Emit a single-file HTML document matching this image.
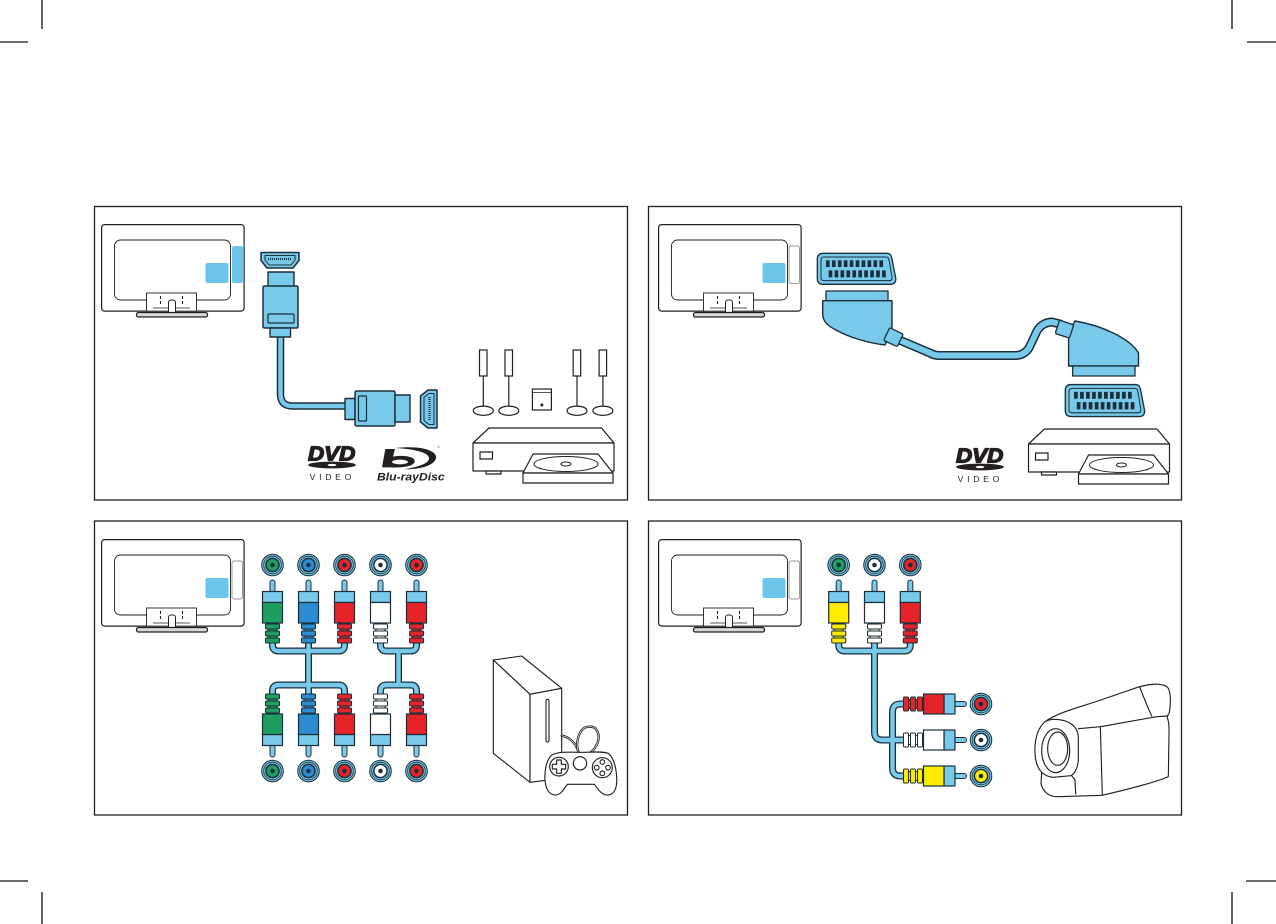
<!DOCTYPE html>
<html><head><meta charset="utf-8">
<style>html,body{margin:0;padding:0;background:#fff;}svg{display:block}</style>
</head>
<body>
<svg width="1276" height="924" viewBox="0 0 1276 924" xmlns="http://www.w3.org/2000/svg" font-family="Liberation Sans, sans-serif">
<defs>
  <g id="tv">
    <rect x="0.6" y="0.6" width="142.5" height="86.5" rx="3" fill="#fff" stroke="#231f20" stroke-width="1.2"/>
    <rect x="13.5" y="16" width="116" height="60" rx="6" fill="#fff" stroke="#231f20" stroke-width="0.9"/>
    <rect x="104.5" y="39" width="23" height="20" rx="2" fill="#6cc5ea"/>
    <rect x="45.5" y="69" width="50" height="18.1" fill="#fff" stroke="#231f20" stroke-width="0.9"/>
    <line x1="52" y1="84" x2="89" y2="84" stroke="#231f20" stroke-width="0.8"/>
    <path d="M59.5,72v3M59.5,77v3M81.5,72v3M81.5,77v3" stroke="#231f20" stroke-width="1.1"/>
    <rect x="67.5" y="76" width="7" height="15" rx="2.5" fill="#fff" stroke="#231f20" stroke-width="1"/>
    <rect x="35.5" y="88.5" width="71" height="4.5" rx="2" fill="#d8d8d8" stroke="#231f20" stroke-width="1.3"/>
  </g>
  <g id="plug">
    <path d="M-2.5,12 V2.5 A2.5,2.5 0 0 1 2.5,2.5 V12" fill="#78c9ea" stroke="#1a2f3a" stroke-width="1"/>
    <rect x="-10" y="11.5" width="20" height="11" fill="#78c9ea" stroke="#1a2f3a" stroke-width="1.2"/>
    <rect x="-10" y="22.5" width="20" height="20.5" fill="currentColor" stroke="#1a2f3a" stroke-width="1.2"/>
    <rect x="-4.5" y="43" width="9" height="20" fill="currentColor" stroke="#1a2f3a" stroke-width="1"/>
    <rect x="-7" y="44" width="14" height="5" rx="1" fill="currentColor" stroke="#1a2f3a" stroke-width="1"/>
    <rect x="-7" y="51" width="14" height="5" rx="1" fill="currentColor" stroke="#1a2f3a" stroke-width="1"/>
    <rect x="-7" y="58" width="14" height="5" rx="1" fill="currentColor" stroke="#1a2f3a" stroke-width="1"/>
  </g>
  <g id="jack">
    <circle r="10.8" fill="#78c9ea" stroke="#1a2f3a" stroke-width="1"/>
    <circle r="8.8" fill="none" stroke="#1a2f3a" stroke-width="0.8"/>
    <circle r="6.6" fill="currentColor" stroke="#1a2f3a" stroke-width="1.5"/>
    <circle r="2.3" fill="#1a2f3a"/>
  </g>
  <g id="scs">
    <path d="M22,42 Q22,25 40,25 L232,25 Q242,25 245,38 L257,98 Q260,118 240,118 L40,118 Q22,118 22,100 Z" fill="#78c9ea" stroke="#1a2f3a" stroke-width="4"/>
    <path d="M33,45 Q33,36 43,36 L228,36 Q235,36 237,44 L246,96 Q248,107 237,107 L43,107 Q33,107 33,98 Z" fill="#78c9ea" stroke="#1a2f3a" stroke-width="3"/>
    <path fill="#1a2f3a" d="M48,46h11v20h-11zM65.8,46h11v20h-11zM83.6,46h11v20h-11zM101.4,46h11v20h-11zM119.2,46h11v20h-11zM137,46h11v20h-11zM154.8,46h11v20h-11zM172.6,46h11v20h-11zM190.4,46h11v20h-11zM208.2,46h11v20h-11z
    M56,76h11v21h-11zM73.8,76h11v21h-11zM91.6,76h11v21h-11zM109.4,76h11v21h-11zM127.2,76h11v21h-11zM145,76h11v21h-11zM162.8,76h11v21h-11zM180.6,76h11v21h-11zM198.4,76h11v21h-11zM216.2,76h11v21h-11z"/>
  </g>
  <g id="player" fill="#fff" stroke="#231f20" stroke-width="1.2" stroke-linejoin="round">
    <path d="M473,443 L489,428 H601.5 L614,443 Z"/>
    <rect x="473" y="443" width="141" height="28"/>
    <rect x="480" y="452" width="12.5" height="7"/>
    <rect x="486" y="471" width="15" height="3"/>
    <path d="M533,454 H598 L613,473 H523 Z"/>
    <rect x="523" y="473" width="90" height="10"/>
    <ellipse cx="566" cy="464" rx="32" ry="7.5" stroke-width="1"/>
    <ellipse cx="566" cy="464" rx="5" ry="2" stroke-width="1"/>
  </g>
</defs>

<!-- crop marks -->
<g stroke="#111" stroke-width="1.3">
  <line x1="42" y1="0" x2="42" y2="29"/><line x1="0" y1="42" x2="28" y2="42"/>
  <line x1="1232" y1="0" x2="1232" y2="29"/><line x1="1247" y1="42" x2="1276" y2="42"/>
  <line x1="42" y1="892" x2="42" y2="924"/><line x1="0" y1="881" x2="28" y2="881"/>
  <line x1="1232" y1="892" x2="1232" y2="924"/><line x1="1246" y1="881" x2="1276" y2="881"/>
</g>

<!-- panels -->
<g fill="none" stroke="#231f20" stroke-width="1.3">
  <rect x="94.5" y="206.5" width="533" height="293.5"/>
  <rect x="648.5" y="206.5" width="533" height="293.5"/>
  <rect x="94.5" y="521" width="533" height="294"/>
  <rect x="648.5" y="521" width="533" height="294"/>
</g>

<!-- TVs -->
<use href="#tv" transform="translate(101,224)"/>
<rect x="232" y="246" width="11" height="37" rx="2" fill="#6cc5ea"/>
<use href="#tv" transform="translate(658,224)"/>
<rect x="789" y="246" width="10.5" height="37.5" rx="2" fill="#fff" stroke="#9a9a9a" stroke-width="1"/>
<use href="#tv" transform="translate(101,539)"/>
<rect x="232" y="561" width="10.5" height="38" rx="2" fill="#fff" stroke="#9a9a9a" stroke-width="1"/>
<use href="#tv" transform="translate(658,539)"/>
<rect x="789" y="561" width="10.5" height="38" rx="2" fill="#fff" stroke="#9a9a9a" stroke-width="1"/>

<!-- ===== TL: HDMI ===== -->
<g stroke="#1a2f3a" stroke-linejoin="round">
  <path d="M261,252.5 h38 v8 l-6,7.5 h-26 l-6,-7.5 z" fill="#78c9ea" stroke-width="1.5"/>
  <path d="M265,255.5 h30 v4.5 l-4,5 h-22 l-4,-5 z" fill="#78c9ea" stroke-width="1"/>
  <line x1="268" y1="259" x2="292" y2="259" stroke-width="2.2" stroke-dasharray="1 1"/>
  <path d="M280.5,335 V394 Q280.5,406 292.5,406 H347" fill="none" stroke-width="7.5"/>
  <path d="M280.5,335 V394 Q280.5,406 292.5,406 H347" fill="none" stroke="#78c9ea" stroke-width="4.5"/>
  <rect x="268" y="272" width="26" height="15" fill="#78c9ea" stroke-width="1.4"/>
  <rect x="263" y="286" width="35" height="42" rx="1.5" fill="#78c9ea" stroke-width="1.5"/>
  <rect x="268" y="314" width="26" height="9" rx="1" fill="none" stroke-width="1.2"/>
  <rect x="270" y="328" width="20.5" height="9" fill="#78c9ea" stroke-width="1.4"/>
  <rect x="345" y="398.5" width="10" height="21" fill="#78c9ea" stroke-width="1.4"/>
  <rect x="355" y="391" width="40" height="35" rx="1.5" fill="#78c9ea" stroke-width="1.5"/>
  <rect x="358.5" y="396" width="8" height="25" rx="1" fill="none" stroke-width="1.2"/>
  <rect x="395" y="395" width="15" height="27" fill="#78c9ea" stroke-width="1.4"/>
  <path d="M437,390 v38 h-9 l-7.5,-6 v-26 l7.5,-6 z" fill="#78c9ea" stroke-width="1.5"/>
  <path d="M434,393.5 v31 h-5 l-5,-4 v-23 l5,-4 z" fill="#78c9ea" stroke-width="1"/>
  <line x1="429.5" y1="397" x2="429.5" y2="421" stroke-width="2.2" stroke-dasharray="1 1"/>
</g>

<!-- DVD logo TL -->
<g transform="translate(298,440) scale(0.33333)" fill="#231f20">
  <text x="30" y="62" font-size="62" font-weight="bold" font-style="italic" textLength="142" lengthAdjust="spacingAndGlyphs" stroke="#231f20" stroke-width="4" stroke-linejoin="round">DVD</text>
  <ellipse cx="102" cy="75" rx="72" ry="10"/>
  <ellipse cx="102" cy="75" rx="13" ry="3.5" fill="#fff"/>
  <text x="35" y="120" font-size="26" textLength="125" lengthAdjust="spacing">VIDEO</text>
  <!-- Blu-ray -->
  <path d="M262,27 L291,27 L285,50 C305,45 348,47 350,62 C352,78 318,84 278,82 L252,82 Z"/>
  <ellipse cx="306" cy="66" rx="24" ry="7" fill="#fff"/>
  <path d="M292,24 C385,14 425,38 412,60 C400,80 360,88 318,88 C355,82 390,72 393,57 C396,40 360,28 292,24 Z"/>
  <text x="237" y="122" font-size="32" font-weight="bold" font-style="italic" textLength="203" lengthAdjust="spacingAndGlyphs">Blu-rayDisc</text>
  <text x="415" y="25" font-size="10">™</text>
</g>

<!-- speakers -->
<g fill="#fff" stroke="#231f20" stroke-width="1.2">
  <line x1="483.3" y1="376" x2="483.3" y2="410"/><ellipse cx="483.3" cy="410.7" rx="10" ry="4.6"/><rect x="479.5" y="350" width="7.5" height="26"/>
  <line x1="508.8" y1="376" x2="508.8" y2="410"/><ellipse cx="508.8" cy="410.7" rx="10" ry="4.6"/><rect x="505" y="350" width="7.5" height="26"/>
  <line x1="577" y1="376" x2="577" y2="410"/><ellipse cx="577" cy="410.7" rx="10" ry="4.6"/><rect x="573.2" y="350" width="7.5" height="26"/>
  <line x1="602.9" y1="376" x2="602.9" y2="410"/><ellipse cx="602.9" cy="410.7" rx="10" ry="4.6"/><rect x="599.1" y="350" width="7.5" height="26"/>
  <rect x="532.4" y="389" width="19" height="21"/>
  <line x1="532.4" y1="392.5" x2="551.4" y2="392.5" stroke-width="0.8"/>
  <circle cx="541.9" cy="405" r="0.9" fill="#231f20"/>
</g>
<use href="#player"/>

<!-- ===== TR: SCART ===== -->
<use href="#scs" transform="translate(810,245) scale(0.33333)"/>
<use href="#scs" transform="translate(1057.9,376) scale(0.3368,0.3441)"/>
<g stroke="#1a2f3a" stroke-linejoin="round" stroke-linecap="round">
  <path d="M897,339 L930,353 Q934,355.5 940,355.5 H1015 Q1024,355.5 1029,348 L1037,331 Q1042,322.5 1052,322 L1060,324" fill="none" stroke-width="9"/>
  <path d="M897,339 L930,353 Q934,355.5 940,355.5 H1015 Q1024,355.5 1029,348 L1037,331 Q1042,322.5 1052,322 L1060,324" fill="none" stroke="#78c9ea" stroke-width="6"/>
  <rect x="826" y="291" width="62" height="10" fill="#78c9ea" stroke-width="1.3"/>
  <path d="M822.7,300.7 H892 V330 L885,345 C868,343 848,337 836,330 C826,325 822.7,320 822.7,314 Z" fill="#78c9ea" stroke-width="1.4"/>
  <rect x="-7" y="-7" width="15" height="14" rx="1.5" transform="translate(893,337) rotate(25)" fill="#78c9ea" stroke-width="1.3"/>
  <path d="M1068.6,333 V366 H1138.5 V353 C1130,338 1100,325 1075,321 Z" fill="#78c9ea" stroke-width="1.4"/>
  <rect x="1072.7" y="366" width="62.3" height="10" fill="#78c9ea" stroke-width="1.3"/>
  <rect x="-7" y="-7" width="15" height="14" rx="1.5" transform="translate(1064,329) rotate(18)" fill="#78c9ea" stroke-width="1.3"/>
</g>
<!-- DVD logo TR -->
<g transform="translate(946,442) scale(0.33333)" fill="#231f20">
  <text x="30" y="62" font-size="62" font-weight="bold" font-style="italic" textLength="142" lengthAdjust="spacingAndGlyphs" stroke="#231f20" stroke-width="4" stroke-linejoin="round">DVD</text>
  <ellipse cx="102" cy="75" rx="72" ry="10"/>
  <ellipse cx="102" cy="75" rx="13" ry="3.5" fill="#fff"/>
  <text x="35" y="120" font-size="26" textLength="125" lengthAdjust="spacing">VIDEO</text>
</g>
<use href="#player" transform="translate(555.5,1)"/>

<!-- ===== BL: component ===== -->
<g fill="none" stroke-linejoin="round">
  <path d="M272.5,640 V645 Q272.5,651 278.5,651 H338.5 Q344.5,651 344.5,645 V640 M308.5,640 V697 M272.5,697 V691 Q272.5,685 278.5,685 H338.5 Q344.5,685 344.5,691 V697
  M380.5,640 V645 Q380.5,651 386.5,651 H410.5 Q416.5,651 416.5,645 V640 M398.5,651 V685 M380.5,697 V691 Q380.5,685 386.5,685 H410.5 Q416.5,685 416.5,691 V697" stroke="#1a2f3a" stroke-width="7"/>
  <path d="M272.5,640 V645 Q272.5,651 278.5,651 H338.5 Q344.5,651 344.5,645 V640 M308.5,640 V697 M272.5,697 V691 Q272.5,685 278.5,685 H338.5 Q344.5,685 344.5,691 V697
  M380.5,640 V645 Q380.5,651 386.5,651 H410.5 Q416.5,651 416.5,645 V640 M398.5,651 V685 M380.5,697 V691 Q380.5,685 386.5,685 H410.5 Q416.5,685 416.5,691 V697" stroke="#78c9ea" stroke-width="4.4"/>
</g>
<use href="#plug" transform="translate(272.5,580)" style="color:#1c9f5f"/>
<use href="#plug" transform="translate(308.5,580)" style="color:#2b8ccf"/>
<use href="#plug" transform="translate(344.5,580)" style="color:#e52329"/>
<use href="#plug" transform="translate(380.5,580)" style="color:#ffffff"/>
<use href="#plug" transform="translate(416.5,580)" style="color:#e52329"/>
<use href="#plug" transform="translate(272.5,757) scale(1,-1)" style="color:#1c9f5f"/>
<use href="#plug" transform="translate(308.5,757) scale(1,-1)" style="color:#2b8ccf"/>
<use href="#plug" transform="translate(344.5,757) scale(1,-1)" style="color:#e52329"/>
<use href="#plug" transform="translate(380.5,757) scale(1,-1)" style="color:#ffffff"/>
<use href="#plug" transform="translate(416.5,757) scale(1,-1)" style="color:#e52329"/>
<use href="#jack" transform="translate(272.5,565)" style="color:#1c9f5f"/>
<use href="#jack" transform="translate(308.5,565)" style="color:#2b8ccf"/>
<use href="#jack" transform="translate(344.5,565)" style="color:#e52329"/>
<use href="#jack" transform="translate(380.5,565)" style="color:#ffffff"/>
<use href="#jack" transform="translate(416.5,565)" style="color:#e52329"/>
<use href="#jack" transform="translate(272.5,771)" style="color:#1c9f5f"/>
<use href="#jack" transform="translate(308.5,771)" style="color:#2b8ccf"/>
<use href="#jack" transform="translate(344.5,771)" style="color:#e52329"/>
<use href="#jack" transform="translate(380.5,771)" style="color:#ffffff"/>
<use href="#jack" transform="translate(416.5,771)" style="color:#e52329"/>

<!-- console + controller -->
<g transform="translate(480,645) scale(0.33333)" fill="#fff" stroke="#231f20" stroke-width="3.4" stroke-linejoin="round" stroke-linecap="round">
  <path d="M40,45 L125,33 L245,130 L150,148 Z"/>
  <path d="M40,45 L150,148 L150,412 L40,325 Z"/>
  <path d="M150,148 L245,130 L245,400 L150,412 Z"/>
  <rect x="198" y="163" width="9" height="128" rx="4.5" fill="none"/>
  <path d="M245,272 C265,275 285,290 295,318" fill="none" stroke-width="7"/>
  <path d="M245,272 C265,275 285,290 295,318" fill="none" stroke="#fff" stroke-width="2"/>
  <path d="M295,322 C285,290 298,248 325,245 C352,242 362,270 352,295 C346,310 338,318 332,322" fill="none" stroke-width="7"/>
  <path d="M295,322 C285,290 298,248 325,245 C352,242 362,270 352,295 C346,310 338,318 332,322" fill="none" stroke="#fff" stroke-width="2"/>
  <path d="M215,330 C200,345 193,375 195,405 C197,430 205,448 225,450 C240,452 250,435 262,418 L343,418 C355,435 368,452 385,450 C405,448 412,425 410,395 C408,365 402,340 385,325 C365,318 330,322 300,322 C270,322 240,318 215,330 Z"/>
  <circle cx="237" cy="365" r="28"/>
  <path d="M230,345 h14 v13 h13 v14 h-13 v13 h-14 v-13 h-13 v-14 h13 z"/>
  <circle cx="300" cy="355" r="20"/>
  <circle cx="367" cy="368" r="30"/>
  <circle cx="367" cy="351" r="7"/><circle cx="350" cy="368" r="7"/><circle cx="384" cy="368" r="7"/><circle cx="367" cy="385" r="7"/>
</g>

<!-- ===== BR: composite ===== -->
<g fill="none" stroke-linejoin="round">
  <path d="M838.7,640 V645 Q838.7,651 844.7,651 H904.3 Q910.3,651 910.3,645 V640 M874.5,640 V732 Q874.5,740 882.5,740 H906 M906,704 H900.5 Q892.5,704 892.5,712 V768 Q892.5,776 900.5,776 H906" stroke="#1a2f3a" stroke-width="7"/>
  <path d="M838.7,640 V645 Q838.7,651 844.7,651 H904.3 Q910.3,651 910.3,645 V640 M874.5,640 V732 Q874.5,740 882.5,740 H906 M906,704 H900.5 Q892.5,704 892.5,712 V768 Q892.5,776 900.5,776 H906" stroke="#78c9ea" stroke-width="4.4"/>
</g>
<use href="#plug" transform="translate(838.7,580)" style="color:#ffec00"/>
<use href="#plug" transform="translate(874.5,580)" style="color:#ffffff"/>
<use href="#plug" transform="translate(910.3,580)" style="color:#e52329"/>
<use href="#jack" transform="translate(838.7,565)" style="color:#1c9f5f"/>
<use href="#jack" transform="translate(874.5,565)" style="color:#ffffff"/>
<use href="#jack" transform="translate(910.3,565)" style="color:#e52329"/>
<use href="#plug" transform="translate(966.5,704) rotate(90)" style="color:#e52329"/>
<use href="#plug" transform="translate(966.5,740) rotate(90)" style="color:#ffffff"/>
<use href="#plug" transform="translate(966.5,776) rotate(90)" style="color:#ffec00"/>
<use href="#jack" transform="translate(981,704)" style="color:#e52329"/>
<use href="#jack" transform="translate(981,740)" style="color:#ffffff"/>
<use href="#jack" transform="translate(981,776)" style="color:#ffec00"/>

<!-- camcorder -->
<g transform="translate(1025,680) scale(0.33333)" fill="#fff" stroke="#231f20" stroke-width="3.4" stroke-linejoin="round" stroke-linecap="round">
  <path d="M60,125 C95,100 150,85 210,66 L338,22 C370,12 405,8 426,20 C438,30 438,70 433,98 L426,110 C432,125 433,140 432,160 L430,290 C400,305 320,325 232,346 L100,350 C75,350 55,340 48,310 Z"/>
  <path d="M160,146 L226,140 L395,110 L428,108" fill="none"/>
  <path d="M226,140 L232,346" fill="none"/>
  <path d="M345,22 C352,45 370,85 380,108" fill="none"/>
  <path d="M62,124 C40,140 28,175 30,220 C32,262 48,288 85,292 L138,287 C152,278 160,258 160,235 L160,170 C158,148 145,130 118,122 C95,116 75,117 62,124 Z"/>
  <ellipse cx="92" cy="212" rx="42" ry="66"/>
  <ellipse cx="98" cy="206" rx="30" ry="50" fill="none"/>
  <path d="M140,287 L150,300 L152,342" fill="none"/>
</g>
</svg>
</body>
</html>
